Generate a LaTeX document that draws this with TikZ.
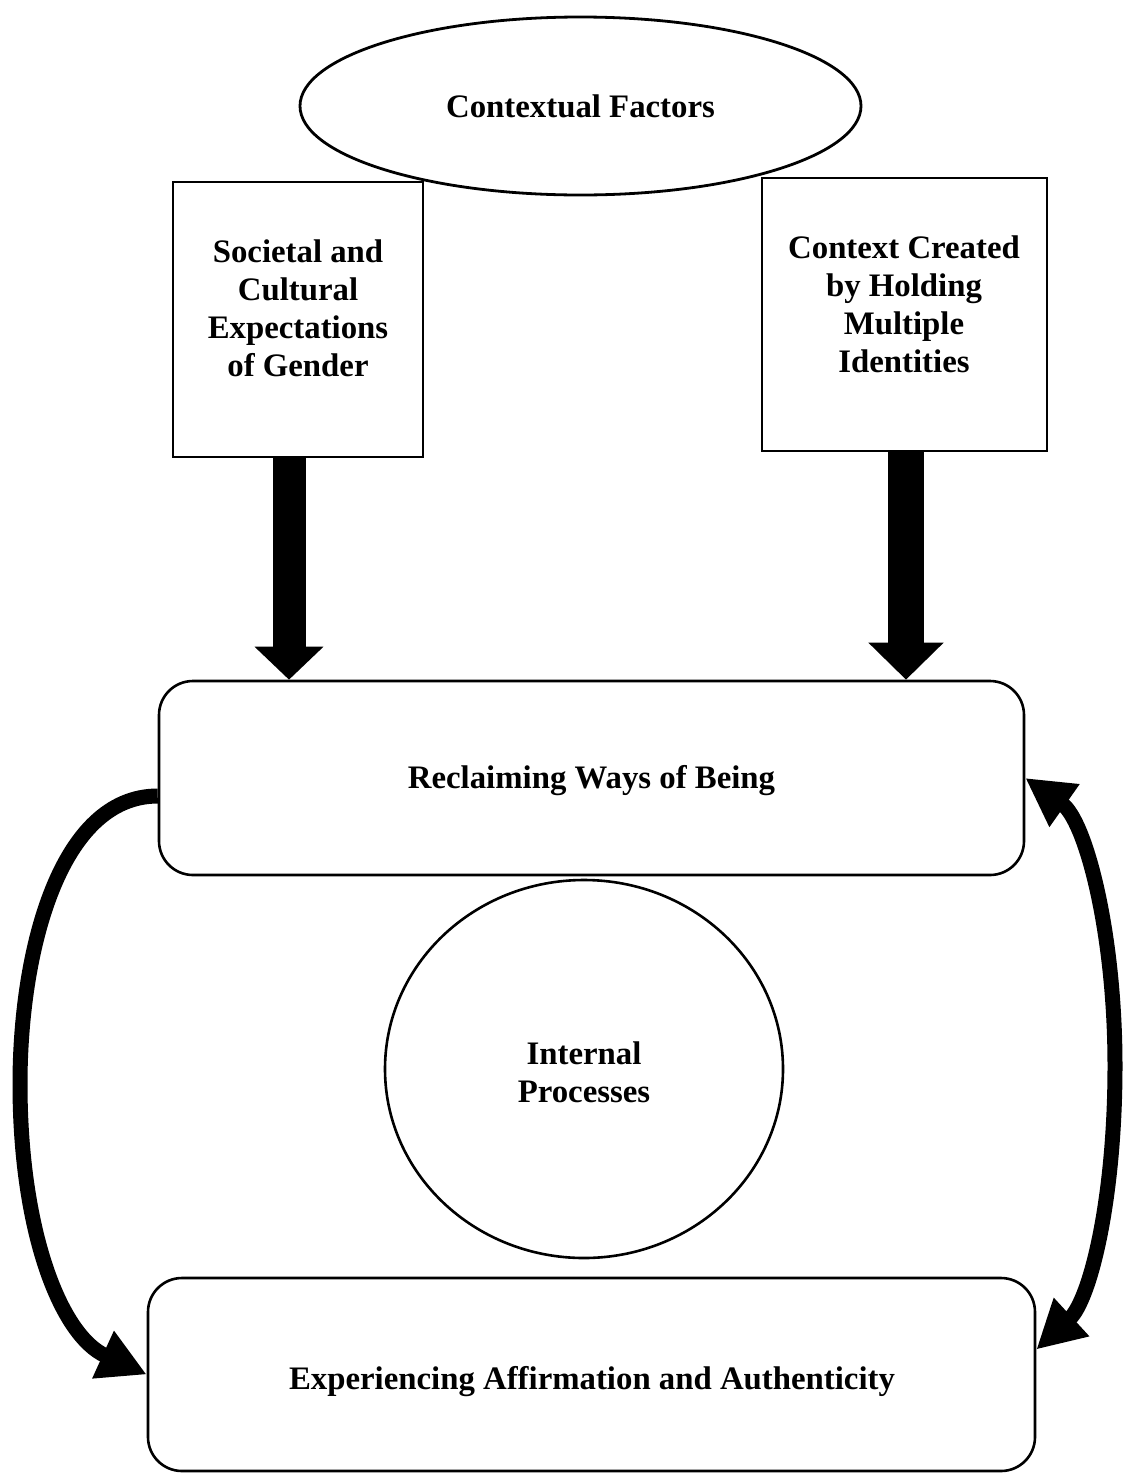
\documentclass[tikz,border=0pt]{standalone}
\usepackage{fontspec}
\setmainfont{Liberation Serif}
\usetikzlibrary{shapes.geometric,arrows.meta}
\begin{document}
\begin{tikzpicture}[x=1pt,y=-1pt,
  txt/.style={font=\fontsize{32.8}{38}\selectfont\bfseries, align=center, inner sep=0pt},
  sqbox/.style={draw, line width=1.4pt, minimum width=#1, inner sep=0pt},
  rbox/.style={draw, line width=2.6pt, rounded corners=34pt, inner sep=0pt},
  curvearrow/.style={line width=15pt, line cap=butt},
  bigtip/.style={Triangle[length=48pt,width=49pt]}
]
\useasboundingbox (0,0) rectangle (1123,1473);
% boxes
\node[sqbox=250pt, minimum height=275pt] (soc) at (298,319.5) {};
\node[txt] (soctext) at (298,308) {Societal and\\Cultural\\Expectations\\of Gender};
\node[sqbox=285pt, minimum height=273pt] (mult) at (904.5,314.5) {};
\node[txt] (multtext) at (904,304) {Context Created\\by Holding\\Multiple\\Identities};
\node[draw, ellipse, fill=white, line width=2.8pt, minimum width=561pt, minimum height=178pt, inner sep=0pt, font=\fontsize{32.8}{38}\selectfont\bfseries] (ctx) at (580.5,106) {Contextual Factors};
\node[rbox, minimum width=865pt, minimum height=194pt] (reclaim) at (591.5,778) {};
\node[txt] (reclaimtext) at (591.5,781) {Reclaiming Ways of Being};
\node[draw, ellipse, line width=2.6pt, minimum width=398pt, minimum height=378pt, inner sep=0pt] (internal) at (584,1069) {};
\node[txt] (inttext) at (584,1072) {Internal\\Processes};
\node[rbox, minimum width=887pt, minimum height=193pt] (exp) at (591.5,1374.5) {};
\node[txt] (exptext) at (592,1382) {Experiencing Affirmation and Authenticity};
% block arrows
\draw[line width=33pt, -{Triangle[length=33pt,width=67pt]}]
  ([xshift=-9pt]soc.south) -- ([xshift=-9pt]soc.south |- reclaim.north);
\draw[line width=36pt, -{Triangle[length=37pt,width=73pt]}]
  ([xshift=1.5pt]mult.south) -- ([xshift=1.5pt]mult.south |- reclaim.north);
% curved arrows
\draw[curvearrow, -{Triangle[length=48pt,width=49pt]}]
  ([yshift=-18pt]reclaim.west) .. controls (60,796) and (20,950) .. (20,1084)
  .. controls (20,1230) and (60,1335) .. (exp.west);
\draw[curvearrow, {Triangle[length=48pt,width=49pt]}-{Triangle[length=48pt,width=49pt]}]
  ([yshift=25pt]exp.east) .. controls (1090,1300) and (1115,1200) .. (1115,1066)
  .. controls (1115,930) and (1085,820) .. (reclaim.east);
\end{tikzpicture}
\end{document}
